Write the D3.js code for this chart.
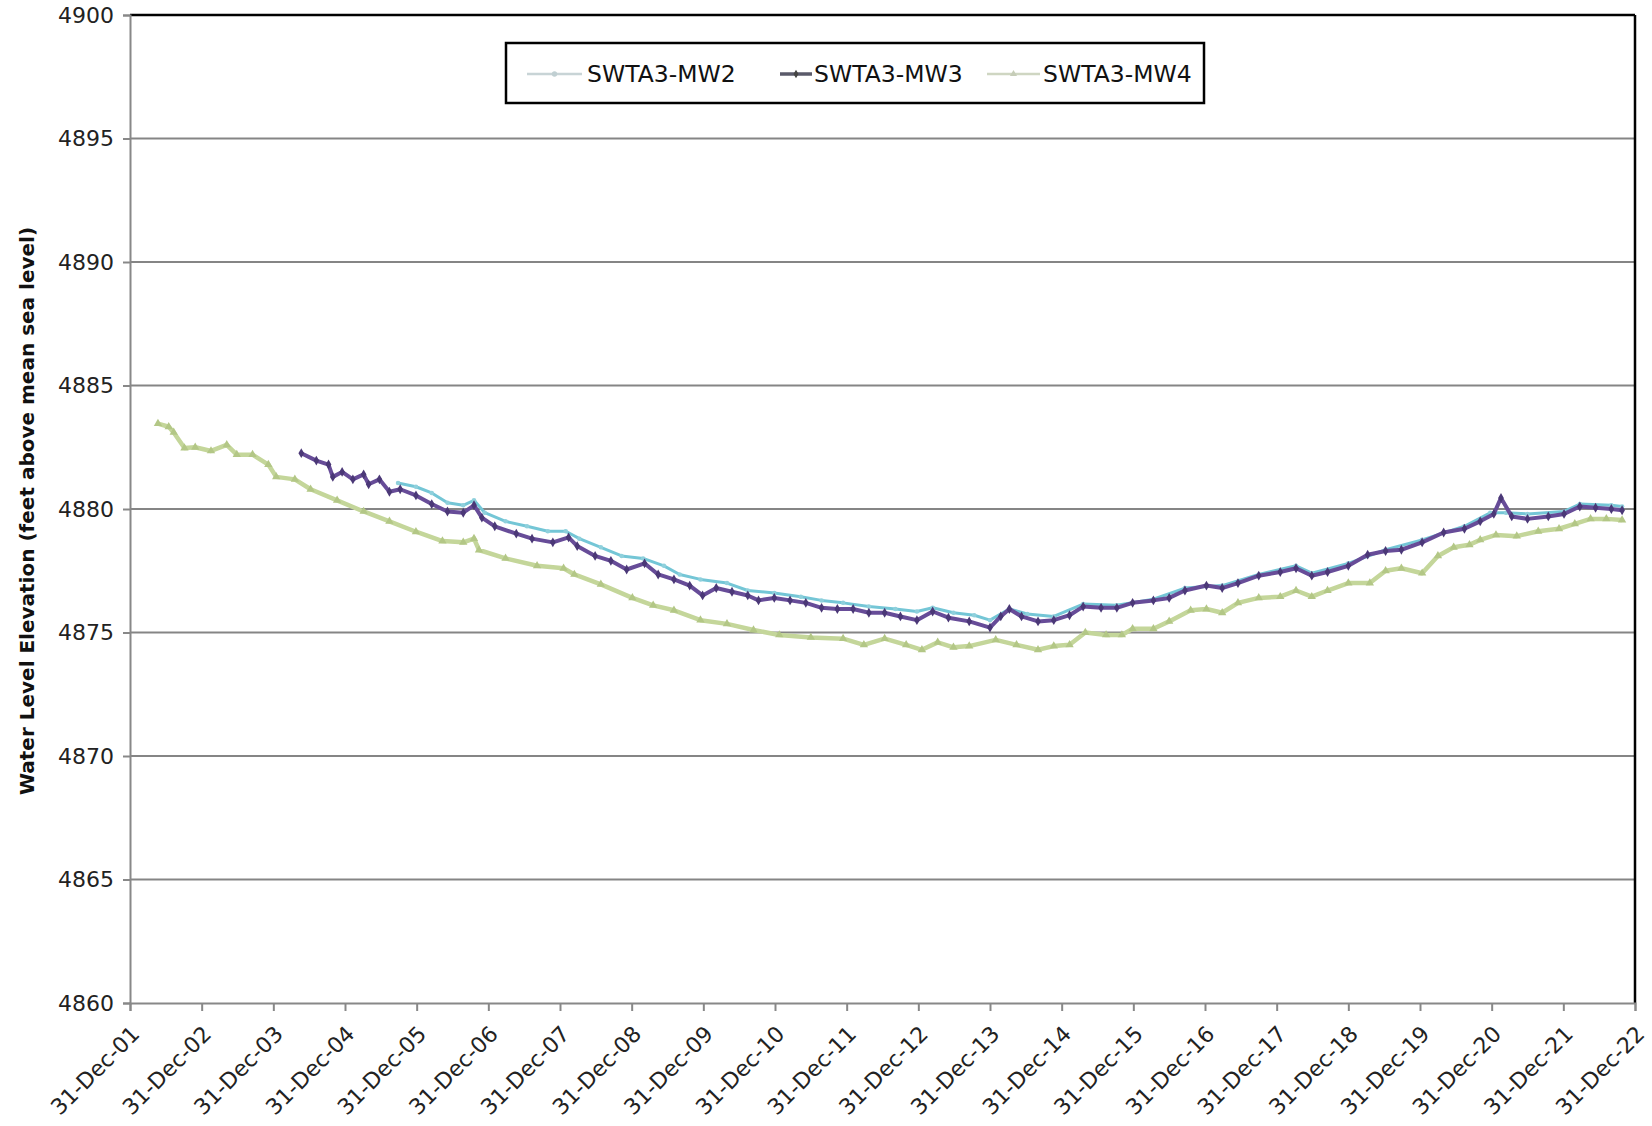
<!DOCTYPE html>
<html><head><meta charset="utf-8">
<script src="https://cdn.jsdelivr.net/npm/d3@7"></script>
<style>
html,body{margin:0;padding:0;background:#fff;}
svg{display:block;font-family:"DejaVu Sans",Verdana,sans-serif;}
</style></head>
<body>
<svg id="chart" width="1652" height="1126"></svg>
<script>
// ---- data (decimal year, water level elevation) ----
const tickYears = d3.range(2002, 2024);
const tickLabels = ["31-Dec-01","31-Dec-02","31-Dec-03","31-Dec-04","31-Dec-05","31-Dec-06","31-Dec-07","31-Dec-08","31-Dec-09","31-Dec-10","31-Dec-11","31-Dec-12","31-Dec-13","31-Dec-14","31-Dec-15","31-Dec-16","31-Dec-17","31-Dec-18","31-Dec-19","31-Dec-20","31-Dec-21","31-Dec-22"];
const yTicks = [4860,4865,4870,4875,4880,4885,4890,4895,4900];
const seriesNames = ["SWTA3-MW2","SWTA3-MW3","SWTA3-MW4"];

const mw2Years = [2005.74,2005.99,2006.21,2006.43,2006.65,2006.80,2006.95,2007.24,2007.54,2007.83,2008.08,2008.27,2008.57,2008.86,2009.16,2009.45,2009.67,2009.96,2010.33,2010.62,2010.99,2011.36,2011.65,2011.95,2012.31,2012.68,2012.98,2013.20,2013.49,2013.78,2014.00,2014.27,2014.52,2014.89,2015.30,2015.77,2016.28,2016.72,2017.24,2017.75,2018.27,2018.49,2019.00,2019.52,2020.03,2020.62,2020.98,2021.20,2021.50,2022.01,2022.23,2022.67,2022.82];
const mw2Values = [4881.05,4880.9,4880.65,4880.25,4880.15,4880.35,4879.85,4879.5,4879.3,4879.1,4879.1,4878.8,4878.45,4878.1,4878.0,4877.7,4877.35,4877.15,4877.0,4876.7,4876.6,4876.45,4876.3,4876.2,4876.05,4875.95,4875.85,4876.0,4875.8,4875.7,4875.5,4875.95,4875.75,4875.65,4876.15,4876.1,4876.35,4876.8,4876.9,4877.35,4877.7,4877.4,4877.8,4878.35,4878.75,4879.3,4879.85,4879.85,4879.8,4879.9,4880.2,4880.15,4880.1];

const mw3Years = [2004.39,2004.60,2004.77,2004.83,2004.96,2005.11,2005.26,2005.33,2005.48,2005.62,2005.77,2005.99,2006.21,2006.43,2006.65,2006.80,2006.91,2007.09,2007.39,2007.61,2007.90,2008.12,2008.24,2008.49,2008.71,2008.93,2009.18,2009.37,2009.59,2009.81,2009.99,2010.18,2010.40,2010.62,2010.77,2010.99,2011.21,2011.43,2011.65,2011.87,2012.09,2012.31,2012.53,2012.75,2012.98,2013.20,2013.42,2013.71,2014.00,2014.15,2014.27,2014.44,2014.67,2014.89,2015.11,2015.30,2015.55,2015.77,2015.99,2016.28,2016.50,2016.72,2017.02,2017.24,2017.46,2017.75,2018.05,2018.27,2018.49,2018.71,2019.00,2019.27,2019.52,2019.74,2020.03,2020.33,2020.62,2020.84,2021.03,2021.13,2021.28,2021.50,2021.79,2022.01,2022.23,2022.45,2022.67,2022.82];
const mw3Values = [4882.26,4881.96,4881.8,4881.3,4881.5,4881.2,4881.4,4881.0,4881.2,4880.7,4880.8,4880.55,4880.2,4879.9,4879.85,4880.15,4879.65,4879.3,4879.0,4878.8,4878.65,4878.85,4878.5,4878.1,4877.9,4877.55,4877.8,4877.35,4877.15,4876.9,4876.5,4876.8,4876.65,4876.5,4876.3,4876.4,4876.3,4876.2,4876.0,4875.95,4875.95,4875.8,4875.8,4875.65,4875.5,4875.85,4875.6,4875.45,4875.2,4875.65,4875.95,4875.65,4875.45,4875.5,4875.7,4876.05,4876.0,4876.0,4876.2,4876.3,4876.4,4876.7,4876.9,4876.8,4877.0,4877.3,4877.45,4877.6,4877.3,4877.45,4877.7,4878.15,4878.3,4878.35,4878.65,4879.05,4879.2,4879.5,4879.8,4880.45,4879.7,4879.6,4879.7,4879.8,4880.1,4880.05,4880.0,4879.95];

const mw4Years = [2002.39,2002.54,2002.61,2002.76,2002.91,2003.13,2003.35,2003.49,2003.71,2003.93,2004.04,2004.30,2004.52,2004.89,2005.26,2005.62,2005.99,2006.36,2006.65,2006.80,2006.87,2007.24,2007.68,2008.05,2008.20,2008.57,2009.01,2009.30,2009.59,2009.96,2010.33,2010.70,2011.06,2011.50,2011.95,2012.24,2012.53,2012.83,2013.05,2013.27,2013.49,2013.71,2014.08,2014.37,2014.67,2014.89,2015.11,2015.33,2015.62,2015.84,2015.99,2016.28,2016.50,2016.80,2017.02,2017.24,2017.46,2017.75,2018.05,2018.27,2018.49,2018.71,2019.00,2019.30,2019.52,2019.74,2020.03,2020.25,2020.47,2020.69,2020.84,2021.06,2021.35,2021.65,2021.94,2022.16,2022.38,2022.60,2022.82];
const mw4Values = [4883.46,4883.33,4883.1,4882.47,4882.5,4882.35,4882.6,4882.2,4882.2,4881.8,4881.3,4881.2,4880.8,4880.35,4879.9,4879.5,4879.08,4878.7,4878.65,4878.8,4878.34,4878.0,4877.7,4877.6,4877.35,4876.95,4876.4,4876.1,4875.9,4875.5,4875.35,4875.1,4874.9,4874.8,4874.75,4874.5,4874.75,4874.5,4874.3,4874.6,4874.4,4874.45,4874.7,4874.5,4874.3,4874.45,4874.5,4875.0,4874.9,4874.9,4875.15,4875.15,4875.45,4875.9,4875.95,4875.8,4876.2,4876.4,4876.45,4876.7,4876.45,4876.7,4877.0,4877.0,4877.5,4877.6,4877.4,4878.1,4878.45,4878.55,4878.75,4878.95,4878.9,4879.1,4879.2,4879.4,4879.6,4879.6,4879.55];

// ---- layout ----
const svg = d3.select("#chart");
const FONT = "'DejaVu Sans', Verdana, sans-serif";
const plotL = 130, plotR = 1635, plotT = 15, plotB = 1003;
const x = d3.scaleLinear().domain([2002, 2023]).range([plotL, plotR]);
const y = d3.scaleLinear().domain([4860, 4900]).range([plotB, plotT]);

// gridlines
svg.append("g").selectAll("line").data(yTicks.filter(v => v !== 4860 && v !== 4900)).join("line")
  .attr("x1", plotL).attr("x2", plotR).attr("y1", d => y(d)).attr("y2", d => y(d))
  .attr("stroke", "#858585").attr("stroke-width", 2);

// plot border top/right
svg.append("line").attr("x1", plotL).attr("x2", plotR).attr("y1", plotT).attr("y2", plotT).attr("stroke", "#000").attr("stroke-width", 2.5);
svg.append("line").attr("x1", plotR).attr("x2", plotR).attr("y1", plotT).attr("y2", plotB).attr("stroke", "#000").attr("stroke-width", 2.5);

// axes
const yAxis = d3.axisLeft(y).tickValues(yTicks).tickSize(7).tickPadding(9).tickFormat(d3.format("d"));
const gy = svg.append("g").attr("transform", `translate(${plotL},0)`).call(yAxis)
  .attr("font-family", FONT).attr("font-size", 22);
gy.select(".domain").attr("stroke", "#888").attr("stroke-width", 2);
gy.selectAll(".tick line").attr("stroke", "#888").attr("stroke-width", 2);
gy.selectAll("text").attr("fill", "#222");

const xAxis = d3.axisBottom(x).tickValues(tickYears).tickSize(8).tickFormat((d, i) => tickLabels[i]);
const gx = svg.append("g").attr("transform", `translate(0,${plotB})`).call(xAxis)
  .attr("font-family", FONT).attr("font-size", 22);
gx.select(".domain").attr("stroke", "#888").attr("stroke-width", 2);
gx.selectAll(".tick line").attr("stroke", "#888").attr("stroke-width", 2);
gx.selectAll("text").attr("fill", "#222")
  .attr("text-anchor", "end").attr("dy", "0.35em")
  .attr("transform", "translate(5,27) rotate(-45)").attr("y", 0).attr("x", 0);

// y title
svg.append("text").attr("transform", "translate(34,511) rotate(-90)")
  .attr("text-anchor", "middle").attr("font-size", 20).attr("font-weight", "bold").attr("fill", "#111")
  .text("Water Level Elevation (feet above mean sea level)");

// series
const series = [
  {name: seriesNames[0], years: mw2Years, values: mw2Values, color: "#74c6d6", width: 3, marker: "circle", mcolor: "#8fd0dc", msize: 16},
  {name: seriesNames[2], years: mw4Years, values: mw4Values, color: "#c4d69a", width: 4.5, marker: "triangle", mcolor: "#b3c786", msize: 30},
  {name: seriesNames[1], years: mw3Years, values: mw3Values, color: "#674c98", width: 4, marker: "diamond", mcolor: "#4b3877", msize: 28}
];
const line = d3.line().x(d => x(d[0])).y(d => y(d[1]));
const symType = {circle: d3.symbolCircle, triangle: d3.symbolTriangle, diamond: d3.symbolDiamond};
series.forEach(s => {
  const pts = s.years.map((yr, i) => [yr, s.values[i]]);
  svg.append("path").datum(pts).attr("d", line).attr("fill", "none")
    .attr("stroke", s.color).attr("stroke-width", s.width).attr("stroke-linejoin", "round");
  svg.append("g").selectAll("path").data(pts).join("path")
    .attr("transform", d => `translate(${x(d[0])},${y(d[1])})`)
    .attr("d", d3.symbol().type(symType[s.marker]).size(s.msize))
    .attr("fill", s.mcolor);
});

// legend
const lg = svg.append("g");
lg.append("rect").attr("x", 506).attr("y", 43).attr("width", 698).attr("height", 60)
  .attr("fill", "#fff").attr("stroke", "#000").attr("stroke-width", 2.5);
const legendItems = [
  {name: seriesNames[0], x1: 527, x2: 582, tx: 587, color: "#c8d4d6", w: 2.5, marker: "circle", mcolor: "#c0cfd2"},
  {name: seriesNames[1], x1: 780, x2: 812, tx: 814, color: "#5a5a6a", w: 3.5, marker: "diamond", mcolor: "#444"},
  {name: seriesNames[2], x1: 987, x2: 1040, tx: 1043, color: "#cfd6c2", w: 2.5, marker: "triangle", mcolor: "#c6cdb8"}
];
legendItems.forEach(it => {
  lg.append("line").attr("x1", it.x1).attr("x2", it.x2).attr("y1", 74).attr("y2", 74)
    .attr("stroke", it.color).attr("stroke-width", it.w);
  lg.append("path").attr("transform", `translate(${(it.x1 + it.x2) / 2},74)`)
    .attr("d", d3.symbol().type(symType[it.marker]).size(22)).attr("fill", it.mcolor);
  lg.append("text").attr("x", it.tx).attr("y", 74).attr("dy", "0.36em")
    .attr("font-size", 23.5).attr("fill", "#111").text(it.name);
});
</script>
</body></html>
